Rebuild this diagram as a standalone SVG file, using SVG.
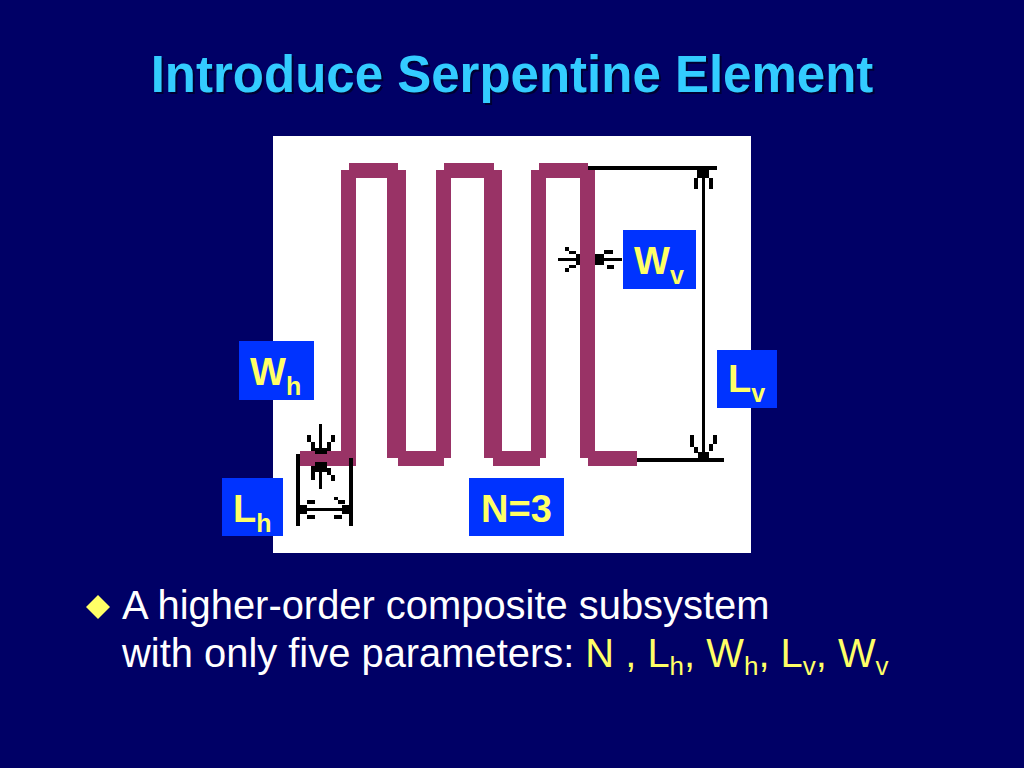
<svg xmlns="http://www.w3.org/2000/svg" width="1024" height="768" viewBox="0 0 1024 768">
<defs><style>
.s{fill:#993366}
.k{fill:#000}
.b{fill:#0033ff}
.l{font-family:"Liberation Sans",Arial,sans-serif;font-size:38px;font-weight:bold;fill:#ffff66}
.u{font-size:25px}
.t{font-family:"Liberation Sans",Arial,sans-serif;font-size:39.9px;fill:#fff}
.y{fill:#ffff66}
.n{font-size:26px}
</style></defs>
<rect width="1024" height="768" fill="#000066"/>
<g id="title" font-family="'Liberation Sans',Arial,sans-serif" font-size="51px" font-weight="bold" text-anchor="middle">
<text x="514" y="94" fill="#000033">Introduce Serpentine Element</text>
<text x="512" y="92" fill="#33ccff">Introduce Serpentine Element</text>
</g>
<rect id="panel" x="273" y="136" width="478" height="417" fill="#fff"/>
<g id="serpentine" class="s">
<rect x="341" y="170" width="15" height="288"/>
<rect x="387" y="170" width="19" height="288"/>
<rect x="436" y="170" width="15" height="288"/>
<rect x="484" y="170" width="18" height="288"/>
<rect x="531" y="170" width="15" height="288"/>
<rect x="580" y="170" width="15" height="288"/>
<rect x="349" y="163" width="49" height="15"/>
<rect x="444" y="163" width="50" height="15"/>
<rect x="539" y="163" width="49" height="15"/>
<rect x="300" y="451" width="56" height="15"/>
<rect x="398" y="451" width="46" height="15"/>
<rect x="493" y="451" width="47" height="15"/>
<rect x="588" y="451" width="49" height="15"/>
</g>
<g id="connectors" class="k">
<rect x="588" y="166" width="129" height="4"/>
<rect x="702" y="170" width="3" height="285"/>
<rect x="637" y="458" width="87" height="4"/>
<rect x="697" y="170" width="12" height="8"/>
<rect x="694" y="178" width="4" height="11"/>
<rect x="709" y="178" width="4" height="11"/>
<rect x="698" y="452" width="11" height="6"/>
<rect x="690" y="435" width="4" height="12"/>
<rect x="713" y="435" width="4" height="9"/>
<rect x="694" y="447" width="4" height="6"/>
<rect x="709" y="444" width="4" height="7"/>
<rect x="558" y="258" width="22" height="3"/>
<rect x="595" y="258" width="27" height="3"/>
<rect x="595" y="254" width="9" height="11"/>
<rect x="604" y="250" width="9" height="4"/>
<rect x="607" y="265" width="7" height="4"/>
<rect x="565" y="247" width="4" height="4"/>
<rect x="569" y="251" width="7" height="3"/>
<rect x="569" y="265" width="7" height="3"/>
<rect x="565" y="268" width="4" height="4"/>
<rect x="576" y="254" width="4" height="11"/>
<rect x="319" y="424" width="3" height="29"/>
<rect x="307" y="435" width="4" height="7"/>
<rect x="311" y="442" width="4" height="9"/>
<rect x="331" y="435" width="4" height="7"/>
<rect x="327" y="442" width="4" height="9"/>
<rect x="315" y="448" width="12" height="6"/>
<rect x="319" y="466" width="3" height="23"/>
<rect x="315" y="462" width="12" height="10"/>
<rect x="311" y="466" width="4" height="14"/>
<rect x="327" y="468" width="4" height="7"/>
<rect x="331" y="475" width="4" height="6"/>
<rect x="296" y="454" width="4" height="72"/>
<rect x="349" y="458" width="4" height="68"/>
<rect x="300" y="508" width="49" height="3"/>
<rect x="300" y="505" width="7" height="9"/>
<rect x="342" y="505" width="7" height="9"/>
<rect x="307" y="500" width="8" height="4"/>
<rect x="307" y="515" width="8" height="4"/>
<rect x="334" y="497" width="4" height="3"/>
<rect x="338" y="500" width="7" height="4"/>
<rect x="334" y="515" width="8" height="4"/>
</g>
<g id="Wv"><rect class="b" x="623" y="230" width="73" height="59"/><text class="l" x="634" y="274">W<tspan class="u" dy="10">v</tspan></text></g>
<g id="Lv"><rect class="b" x="717" y="350" width="60" height="58"/><text class="l" x="728" y="392">L<tspan class="u" dy="10">v</tspan></text></g>
<g id="Wh"><rect class="b" x="239" y="341" width="75" height="59"/><text class="l" x="250" y="385">W<tspan class="u" dy="10">h</tspan></text></g>
<g id="Lh"><rect class="b" x="222" y="478" width="61" height="58"/><text class="l" x="233" y="522">L<tspan class="u" dy="10">h</tspan></text></g>
<g id="N3"><rect class="b" x="469" y="478" width="95" height="58"/><text class="l" x="481" y="522">N=3</text></g>
<g id="bullet">
<polygon points="98,595 110,607 98,619 86,607" fill="#ffff66"/>
<text class="t" x="122" y="619">A higher-order composite subsystem</text>
<text class="t" x="122" y="667">with only five parameters: <tspan class="y">N , L<tspan class="n" dy="8">h</tspan><tspan dy="-8">, W</tspan><tspan class="n" dy="8">h</tspan><tspan dy="-8">, L</tspan><tspan class="n" dy="8">v</tspan><tspan dy="-8">, W</tspan><tspan class="n" dy="8">v</tspan></tspan></text>
</g>
</svg>
